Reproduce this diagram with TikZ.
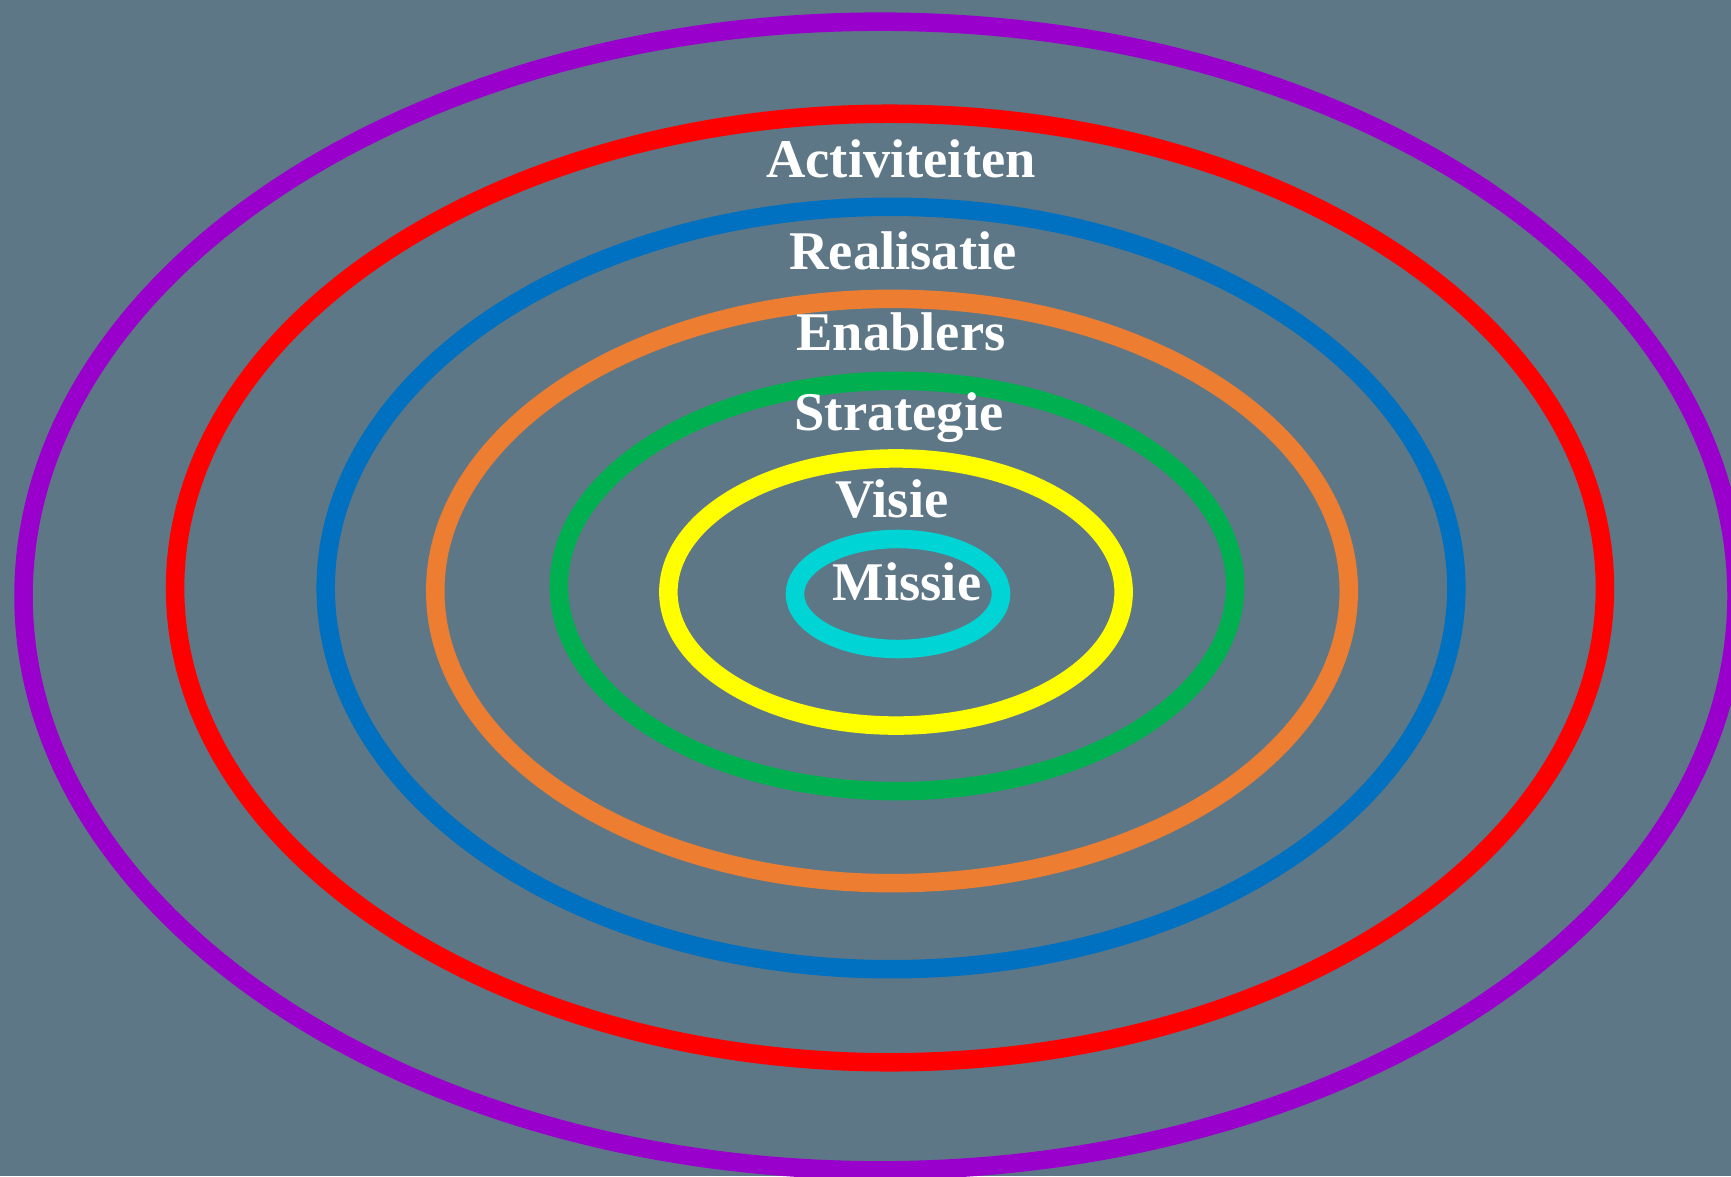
\documentclass[tikz,border=0pt]{standalone}
\usepackage{fontspec}
\setmainfont{Liberation Serif}
\usepackage{tikz}
\usepackage{xcolor}
\usetikzlibrary{positioning}

\definecolor{slate}{RGB}{94,119,134}
\definecolor{ringpurple}{RGB}{153,0,204}
\definecolor{ringred}{RGB}{255,0,0}
\definecolor{ringblue}{RGB}{0,112,192}
\definecolor{ringorange}{RGB}{237,125,49}
\definecolor{ringgreen}{RGB}{0,176,80}
\definecolor{ringyellow}{RGB}{255,255,0}
\definecolor{ringcyan}{RGB}{0,212,212}

\begin{document}
\begin{tikzpicture}[
  x=0.01cm, y=-0.01cm,
  ring/.style={line width=0.185cm},
  label/.style={text=white, font=\fontsize{15.5pt}{18pt}\selectfont\bfseries, anchor=base, inner sep=0pt}
]
\clip (0,0) rectangle (1731,1176);
\fill[slate] (0,0) rectangle (1731,1176);
% rings, outside in
\draw[ring, ringpurple] (880,596) ellipse [x radius=8.56cm, y radius=5.74cm];
\draw[ring, ringred] (890,588) ellipse [x radius=7.145cm, y radius=4.74cm];
\draw[ring, ringblue] (891,588) ellipse [x radius=5.65cm, y radius=3.81cm];
\draw[ring, ringorange] (892,591) ellipse [x radius=4.565cm, y radius=2.92cm];
\draw[ring, ringgreen] (897,586) ellipse [x radius=3.38cm, y radius=2.05cm];
\draw[ring, ringyellow] (896,592) ellipse [x radius=2.275cm, y radius=1.335cm];
\draw[ring, ringcyan] (898,594) ellipse [x radius=1.03cm, y radius=0.55cm];
% labels
\node[label] (activiteiten) at (901,177) {Activiteiten};
\node[label] (realisatie) at (903,269) {Realisatie};
\node[label] (enablers) at (901,350) {Enablers};
\node[label] (strategie) at (899,430) {Strategie};
\node[label] (visie) at (892,517) {Visie};
\node[label] (missie) at (907,600) {Missie};
\end{tikzpicture}
\end{document}
